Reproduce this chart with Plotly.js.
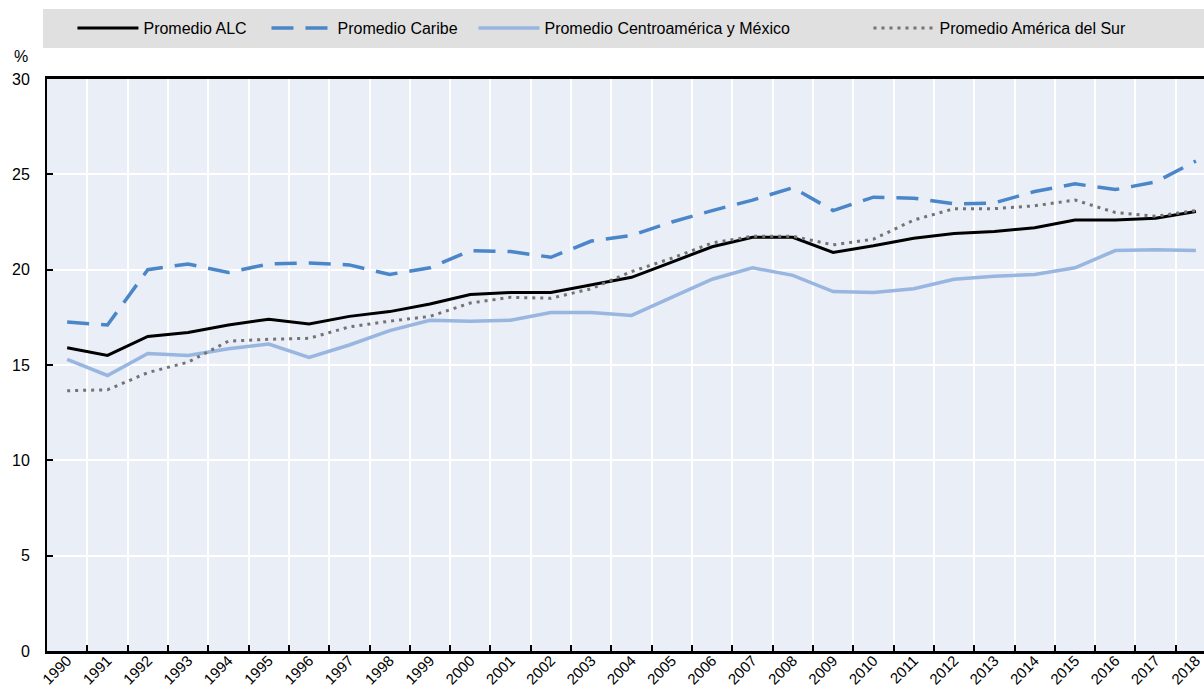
<!DOCTYPE html>
<html>
<head>
<meta charset="utf-8">
<script src="https://cdn.plot.ly/plotly-3.0.1.min.js"></script>
<style>
html,body{margin:0;padding:0;background:#fff;overflow:hidden;}
#chart{width:1204px;height:693px;}
</style>
</head>
<body>
<div id="chart"></div>
<script>
const years = ["1990","1991","1992","1993","1994","1995","1996","1997","1998","1999","2000","2001","2002","2003","2004","2005","2006","2007","2008","2009","2010","2011","2012","2013","2014","2015","2016","2017","2018"];
const promedioALC = [15.9,15.5,16.5,16.7,17.1,17.4,17.15,17.55,17.8,18.2,18.7,18.8,18.8,19.2,19.6,20.4,21.2,21.7,21.7,20.9,21.25,21.65,21.9,22.0,22.2,22.6,22.6,22.7,23.05];
const promedioCaribe = [17.25,17.1,20.0,20.3,19.85,20.3,20.35,20.25,19.75,20.1,21.0,20.95,20.65,21.5,21.8,22.5,23.1,23.65,24.3,23.1,23.8,23.75,23.45,23.5,24.1,24.5,24.2,24.6,25.7];
const promedioCentro = [15.3,14.45,15.6,15.5,15.85,16.1,15.4,16.05,16.8,17.35,17.3,17.35,17.75,17.75,17.6,18.55,19.5,20.1,19.7,18.85,18.8,19.0,19.5,19.65,19.75,20.1,21.0,21.05,21.0];
const promedioSur = [13.65,13.7,14.6,15.15,16.25,16.35,16.4,17.0,17.3,17.55,18.25,18.55,18.5,19.0,19.9,20.6,21.4,21.75,21.75,21.3,21.6,22.6,23.2,23.2,23.35,23.65,23.0,22.8,23.1];
const seriesNames = ["Promedio ALC","Promedio Caribe","Promedio Centroamérica y México","Promedio América del Sur"];

const FONT = "'Liberation Sans', Arial, sans-serif";

const traces = [
  {x: years, y: promedioALC, name: seriesNames[0], type: "scatter", mode: "lines", legend: "legend",
   line: {color: "#000000", width: 3}},
  {x: years, y: promedioCaribe, name: seriesNames[1], type: "scatter", mode: "lines", legend: "legend2",
   line: {color: "#4a86c8", width: 3.5, dash: "22px,12px"}},
  {x: years, y: promedioCentro, name: seriesNames[2], type: "scatter", mode: "lines", legend: "legend3",
   line: {color: "#98b6e0", width: 3.5}},
  {x: years, y: promedioSur, name: seriesNames[3], type: "scatter", mode: "lines", legend: "legend4",
   line: {color: "#737373", width: 3, dash: "3px,5px"}}
];

function leg(x) {
  return {
    orientation: "h", x: x, xanchor: "left", y: 1.089, yanchor: "middle",
    bgcolor: "rgba(0,0,0,0)", borderwidth: 0,
    font: {family: FONT, size: 16, color: "#000000"},
    itemwidth: 61, itemclick: false
  };
}

const layout = {
  width: 1204, height: 693,
  margin: {l: 47, r: 0, t: 79, b: 42, pad: 0},
  paper_bgcolor: "#ffffff",
  plot_bgcolor: "#e9eef7",
  font: {family: FONT, size: 16, color: "#000000"},
  showlegend: true,
  legend: leg(0.0220),
  legend2: leg(0.1897),
  legend3: leg(0.3686),
  legend4: leg(0.7100),
  xaxis: {
    type: "category", range: [-0.5, 28.2], tickson: "boundaries",
    tickangle: -45, ticks: "inside", ticklen: 6, tickwidth: 2, tickcolor: "#000",
    showgrid: true, gridcolor: "#ffffff", gridwidth: 2,
    showline: true, linecolor: "#000", linewidth: 3, mirror: true,
    ticklabelstandoff: -8,
    tickfont: {family: FONT, size: 15}, fixedrange: true
  },
  yaxis: {
    range: [0, 30], dtick: 5, tick0: 0,
    ticks: "inside", ticklen: 6, tickwidth: 2, tickcolor: "#000",
    showgrid: true, gridcolor: "#ffffff", gridwidth: 2, zeroline: false,
    showline: true, linecolor: "#000", linewidth: 2,
    ticklabelstandoff: 12,
    tickfont: {family: FONT, size: 16}, fixedrange: true
  },
  shapes: [
    {type: "rect", xref: "paper", yref: "paper", x0: -0.0035, x1: 1.0, y0: 1.0542, y1: 1.1224,
     fillcolor: "#e0e0e0", line: {width: 0}, layer: "below"}
  ],
  annotations: [
    {text: "%", xref: "paper", yref: "paper", x: -0.0225, y: 1.0385, xanchor: "center", yanchor: "middle",
     showarrow: false, font: {family: FONT, size: 16, color: "#000"}}
  ]
};

Plotly.newPlot("chart", traces, layout, {displayModeBar: false, staticPlot: true});
</script>
</body>
</html>
